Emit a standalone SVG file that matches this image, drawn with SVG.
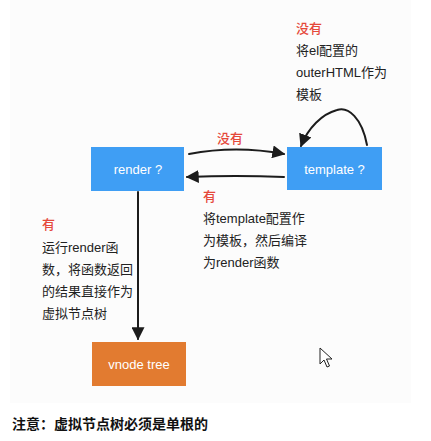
<svg xmlns="http://www.w3.org/2000/svg" width="431" height="441" viewBox="0 0 431 441">
<defs>
<style>
text{font-family:"Liberation Sans","Noto Sans CJK SC",sans-serif;font-size:13px;}
.lbl{fill:#222;}
.red{fill:#e5483a;font-weight:500;}
.nt{fill:#fff;text-anchor:middle;}
.note{font-size:14px;font-weight:bold;fill:#111;}
.blue{fill:#3f9ef4;}
.orange{fill:#e27b30;}
.conn{fill:none;stroke:#1c1c1c;stroke-width:2;stroke-linecap:round;}
</style>
<marker id="ah" viewBox="0 0 10 10" refX="9" refY="5" markerWidth="6.5" markerHeight="6.5" orient="auto" markerUnits="strokeWidth">
<path d="M0,0 L10,5 L0,10 z" fill="#1c1c1c"/>
</marker>
</defs>
<rect x="0" y="0" width="431" height="441" fill="#ffffff"/>
<rect x="10" y="0" width="401" height="403" fill="#fcfcfc"/>

<g id="connectors">
<path class="conn" d="M189,154 Q236,145 284,154" marker-end="url(#ah)"/>
<path class="conn" d="M284,177 Q236,175 187,177" marker-end="url(#ah)"/>
<path class="conn" d="M367,145 C362,118 348,106 337,110 C322,114 308,128 301,146" marker-end="url(#ah)"/>
<path class="conn" d="M138,192 L138,339" marker-end="url(#ah)"/>
</g>

<g id="render">
<rect class="blue" x="91" y="147" width="93" height="44"/>
<text class="nt" x="138" y="173.5">render ?</text>
</g>

<g id="template">
<rect class="blue" x="287" y="147" width="95" height="43"/>
<text class="nt" x="334.5" y="173.5">template ?</text>
</g>

<g id="vnode">
<rect class="orange" x="92" y="342" width="94" height="44"/>
<text class="nt" x="139" y="368.5">vnode tree</text>
</g>

<g id="labels">
<text class="red" x="296" y="33">没有</text>
<text class="lbl" x="296" y="55">将el配置的</text>
<text class="lbl" x="296" y="77">outerHTML作为</text>
<text class="lbl" x="296" y="99">模板</text>

<text class="red" x="217" y="143">没有</text>

<text class="red" x="203" y="201">有</text>
<text class="lbl" x="203" y="223">将template配置作</text>
<text class="lbl" x="203" y="245">为模板，然后编译</text>
<text class="lbl" x="203" y="267">为render函数</text>

<text class="red" x="42" y="229">有</text>
<text class="lbl" x="42" y="252">运行render函</text>
<text class="lbl" x="42" y="274">数，将函数返回</text>
<text class="lbl" x="42" y="296">的结果直接作为</text>
<text class="lbl" x="42" y="318">虚拟节点树</text>
</g>

<path d="M320,348 L320,364 L324,360 L327,367 L329.5,366 L326.5,359 L332,359 Z" fill="#fff" stroke="#222" stroke-width="1"/>

<text class="note" x="12" y="429">注意：虚拟节点树必须是单根的</text>
</svg>
